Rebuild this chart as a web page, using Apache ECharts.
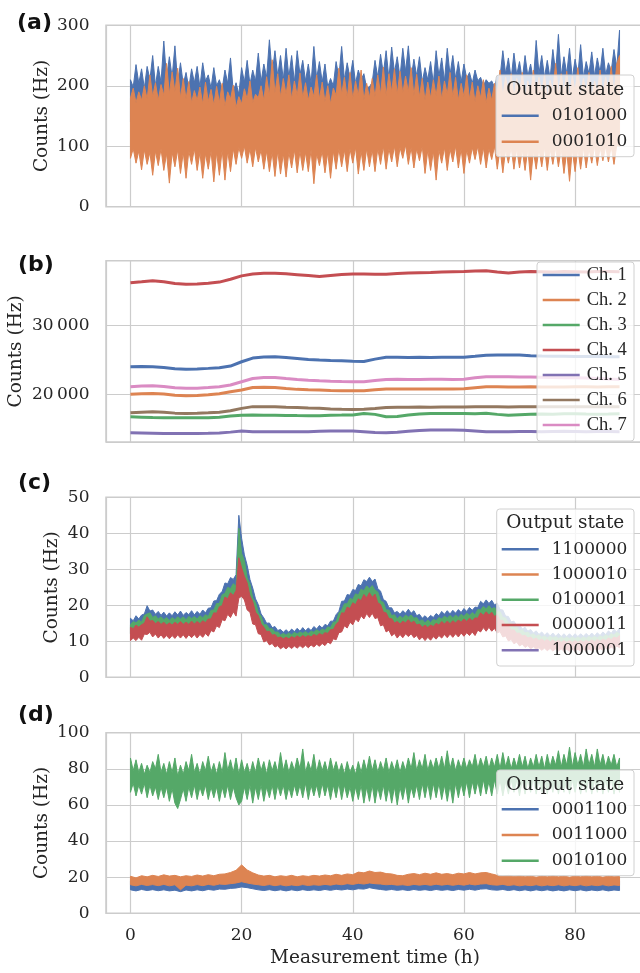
<!DOCTYPE html>
<html>
<head>
<meta charset="utf-8">
<script src="https://cdn.jsdelivr.net/npm/echarts@6/dist/echarts.min.js"></script>
<style>
html, body { margin: 0; padding: 0; background: #fff; }
#chart { width: 640px; height: 973px; }
</style>
</head>
<body>
<div id="chart"></div>
<script>
// ---------- panel (a): noisy bands, upper / lower edges every 0.5 h ----------
var blueA_hi = [210,198,235,204,228,196,232,210,250,200,
	232,206,274,212,248,214,266,204,238,202,
	222,196,228,205,232,198,238,208,218,196,
	230,200,210,194,226,204,246,190,205,186,
	230,206,242,202,226,208,254,206,236,214,
	276,220,258,216,250,210,262,214,250,206,
	258,218,242,208,236,204,265,212,240,206,
	236,198,212,200,240,214,265,210,238,212,
	242,204,226,210,220,196,198,206,242,214,
	252,220,258,212,264,222,248,214,262,224,
	266,212,244,216,248,206,230,210,240,204,
	258,216,246,208,262,218,250,212,240,206,
	236,212,222,204,226,208,214,200,210,204,
	208,198,216,214,258,220,246,212,254,218,
	240,210,250,216,236,208,275,220,250,214,
	242,212,260,222,285,216,248,220,262,212,
	244,218,268,214,240,220,256,216,246,222,
	262,218,238,224,260,230,292];
// hidden under the orange band, every 4 h
var blueA_lo = [140,135,138,132,136,140,134,138,136,140,135,138,136,134,140,136,138,135,140,136,138,134,140];
var orangeA_hi = [180,196,172,190,176,200,178,218,182,205,
	176,202,184,237,186,223,190,229,180,212,
	178,207,172,192,176,198,170,206,174,194,
	168,199,172,204,166,190,178,201,164,182,
	170,195,178,208,172,186,180,200,176,215,
	184,243,188,220,182,212,186,218,178,208,
	184,221,180,205,176,198,182,218,178,206,
	174,200,170,196,184,229,186,214,180,222,
	178,208,184,226,176,204,180,212,182,218,
	186,231,184,220,190,228,186,224,188,216,
	190,230,184,219,182,212,176,206,180,210,
	184,216,178,208,186,222,182,214,176,204,
	182,218,178,206,174,200,180,210,172,196,
	176,204,186,226,182,214,188,220,180,212,
	186,222,180,208,184,226,182,214,186,218,
	180,209,190,237,184,220,188,224,180,216,
	190,230,182,212,188,222,180,208,188,226,
	184,214,190,232,186,236,250];
var orangeA_lo = [80,96,72,92,61,94,70,90,52,92,
	68,96,60,88,39,90,66,94,55,90,
	47,92,70,96,60,90,47,88,62,92,
	41,90,52,94,44,92,58,96,70,98,
	80,100,72,96,66,98,74,94,62,92,
	58,90,50,92,54,88,49,90,64,94,
	56,92,60,90,58,94,38,88,68,92,
	56,90,47,92,62,96,66,94,58,96,
	72,98,54,92,60,96,66,94,58,96,
	70,100,62,96,74,100,66,98,80,102,
	70,98,64,96,76,100,55,94,60,92,
	44,94,72,98,60,96,74,100,64,96,
	55,94,72,98,78,100,70,98,64,96,
	78,100,62,96,56,94,72,98,62,96,
	64,94,60,96,44,92,62,96,66,98,
	60,96,70,98,66,96,55,92,42,94,
	58,96,62,98,64,96,72,100,68,98,
	76,100,74,100,70,102,100];

// ---------- panel (b): channel rates every 2 h ----------
var ch1B = [24000,24020,24000,23900,23720,23620,23680,23760,23850,24100,
	24720,25250,25420,25450,25350,25200,25050,24960,24900,24850,
	24800,24760,25100,25360,25380,25350,25360,25340,25380,25360,
	25370,25500,25650,25700,25700,25680,25600,25550,25520,25500,
	25480,25470,25500,25460,25450];
var ch2B = [20000,20080,20140,20060,19880,19800,19840,19950,20080,20380,
	20630,21000,21020,21000,20850,20720,20660,20630,20560,20530,
	20520,20530,20650,20770,20780,20760,20770,20780,20790,20780,
	20800,20950,21100,21100,21080,21080,21100,21080,21060,21080,
	21100,21100,21080,21100,21100];
var ch3B = [16750,16700,16630,16610,16600,16600,16610,16620,16700,16850,
	16990,17000,16990,16980,16950,16920,16900,16900,16990,17000,
	17020,17230,17100,16760,16800,17000,17150,17230,17240,17230,
	17240,17200,17250,17100,16990,17050,17100,17150,17120,17180,
	17200,17150,17120,17140,17200];
var ch4B = [36170,36300,36450,36300,36050,35940,35980,36100,36250,36660,
	37150,37420,37520,37530,37450,37330,37200,37050,37200,37350,
	37430,37420,37400,37400,37480,37560,37620,37640,37700,37740,
	37770,37850,37910,37700,37560,37700,37770,37750,37720,37800,
	37760,37700,37780,37800,37760];
var ch5B = [14430,14420,14380,14340,14330,14340,14340,14360,14420,14530,
	14680,14600,14580,14580,14570,14580,14600,14650,14680,14690,
	14690,14600,14480,14440,14520,14650,14780,14820,14830,14830,
	14800,14700,14600,14580,14600,14620,14620,14600,14620,14640,
	14620,14600,14620,14620,14600];
var ch6B = [17330,17420,17480,17420,17280,17240,17260,17320,17420,17620,
	17970,18220,18220,18200,18120,18080,18020,17970,17880,17830,
	17820,17830,17950,18100,18120,18140,18150,18130,18160,18180,
	18180,18190,18200,18200,18180,18200,18210,18200,18190,18200,
	18220,18200,18210,18220,18220];
var ch7B = [21100,21200,21250,21150,20950,20870,20900,20980,21100,21350,
	21830,22300,22450,22450,22300,22160,22050,21970,21900,21850,
	21830,21830,22000,22160,22170,22160,22150,22170,22180,22160,
	22200,22400,22550,22560,22540,22520,22500,22470,22450,22420,
	22400,22380,22300,22220,22160];

// ---------- panel (c): bands every 0.5 h, hidden parts every 1 h ----------
var blueC_hi = [16.4,15.7,17.1,16.2,17.3,17.6,19.9,18.4,18.7,17.5,
	18.3,17.2,18.1,17.0,17.9,17.1,18.2,17.3,18.4,17.2,
	18.0,17.4,18.5,17.3,18.3,17.5,18.7,17.9,19.2,19.3,
	21.2,21.3,23.1,23.8,26.2,26.0,27.7,27.2,28.5,45.0,
	38.6,34.0,31.1,27.2,24.8,21.8,20.2,17.6,16.5,15.0,
	15.1,13.8,14.1,13.0,13.3,12.5,13.2,12.5,13.4,12.7,
	13.6,12.8,13.8,12.9,13.7,13.0,14.1,13.4,14.4,13.7,
	14.7,14.3,15.6,15.6,17.4,18.3,21.1,21.2,23.0,22.8,
	24.4,24.1,25.8,25.4,27.1,26.6,27.8,26.6,27.3,24.7,
	23.9,21.6,21.1,19.3,19.3,17.9,18.3,17.5,18.5,17.8,
	18.9,17.8,18.5,17.1,17.5,16.4,17.1,16.3,17.2,16.6,
	17.7,17.1,18.3,17.5,18.5,17.6,18.6,17.8,18.8,18.0,
	19.1,18.3,19.4,18.6,19.5,19.4,21.1,20.4,21.5,20.5,
	21.4,20.1,20.6,18.8,18.7,17.0,16.9,15.4,15.6,14.3,
	14.6,13.4,13.9,12.8,13.3,12.3,12.9,11.9,12.6,11.7,
	12.4,11.5,12.3,11.4,12.2,11.3,12.1,11.3,12.1,11.3,
	12.1,11.3,12.1,11.4,12.2,11.4,12.3,11.5,12.4,11.6,
	12.6,11.9,12.9,12.2,13.3,12.6,13.7];
var greenC_hi = [14.6,15.5,15.1,15.9,15.3,17.2,17.6,17.9,16.6,17.1,
	16.2,16.8,16.0,16.6,15.8,16.6,16.0,16.8,16.2,16.8,
	16.0,16.9,16.3,16.9,16.2,17.1,16.5,17.4,16.9,18.6,
	18.7,20.5,20.5,22.9,23.3,25.0,24.6,26.0,25.3,41.4,
	34.4,32.4,27.6,25.9,22.0,20.8,17.9,17.0,14.6,14.6,
	13.4,13.5,12.5,12.6,11.7,12.2,11.7,12.3,11.8,12.5,
	12.0,12.6,12.2,12.7,12.1,12.8,12.5,13.2,12.7,13.4,
	13.0,14.0,13.8,15.3,15.4,17.8,18.7,20.4,20.4,21.9,
	21.6,23.2,22.8,24.5,24.0,25.4,24.6,25.5,24.2,23.7,
	21.2,20.8,18.7,18.7,17.1,17.4,16.2,17.0,16.4,17.3,
	16.7,17.3,16.4,16.6,15.5,16.0,15.1,15.9,15.2,16.1,
	15.7,16.6,16.2,17.0,16.4,17.2,16.5,17.3,16.6,17.5,
	16.9,17.8,17.2,18.0,17.3,18.8,18.7,19.7,19.0,19.9,
	19.0,19.4,18.2,18.2,16.6,16.5,15.0,15.0,13.8,14.0,
	12.9,13.2,12.3,12.6,11.7,12.1,11.4,11.8,11.1,11.5,
	10.9,11.4,10.9,11.3,10.8,11.2,10.7,11.2,10.7,11.2,
	10.7,11.2,10.7,11.2,10.8,11.3,10.9,11.4,10.9,11.5,
	11.1,11.8,11.4,12.1,11.7,12.5,12.1];
var redC_hi = [13.9,13.5,14.5,13.9,14.6,15.0,16.8,15.6,15.8,14.9,
	15.5,14.7,15.3,14.5,15.1,14.5,15.3,14.7,15.5,14.7,
	15.3,14.7,15.6,14.8,15.5,14.9,15.7,15.2,16.2,16.2,
	17.9,17.8,19.6,19.9,22.3,21.8,23.5,22.7,24.1,33.2,
	30.4,28.0,26.2,22.6,21.0,18.1,17.1,14.8,13.9,12.7,
	12.8,11.7,11.9,11.0,11.2,10.7,11.1,10.7,11.3,10.9,
	11.5,11.0,11.6,11.1,11.6,11.2,11.9,11.5,12.2,11.7,
	12.4,12.2,13.2,13.3,14.7,15.5,17.9,17.8,19.5,19.1,
	20.7,20.2,21.8,21.3,23.0,22.1,23.5,22.2,23.1,20.7,
	20.2,18.1,17.9,16.3,16.3,15.1,15.5,14.8,15.6,15.1,
	16.0,15.1,15.6,14.5,14.8,13.9,14.5,13.8,14.5,14.1,
	15.0,14.5,15.5,14.8,15.6,14.9,15.7,15.1,15.9,15.3,
	16.2,15.5,16.4,15.7,16.5,16.4,17.9,17.2,18.2,17.3,
	18.1,16.9,17.4,15.8,15.8,14.3,14.3,13.1,13.2,12.2,
	12.3,11.5,11.7,10.9,11.2,10.5,10.9,10.2,10.6,10.0,
	10.5,9.8,10.4,9.8,10.3,9.7,10.2,9.7,10.2,9.7,
	10.2,9.7,10.2,9.8,10.3,9.8,10.4,9.9,10.5,10.0,
	10.6,10.2,10.9,10.5,11.2,10.9,11.6];
var redC_lo = [10.2,10.9,10.2,11.1,10.3,12.0,11.9,12.5,11.2,12.0,
	10.9,11.8,10.8,11.6,10.7,11.6,10.8,11.8,10.9,11.8,
	10.8,11.8,11.0,11.9,10.9,11.9,11.1,12.2,11.4,13.0,
	12.6,14.3,13.8,16.0,15.7,17.5,16.6,18.2,17.0,22.0,
	22.5,21.5,18.7,18.1,14.8,14.6,12.1,11.9,9.8,10.2,
	9.0,9.4,8.4,8.8,7.9,8.5,7.9,8.6,8.0,8.7,
	8.1,8.8,8.2,8.9,8.2,9.0,8.4,9.2,8.6,9.4,
	8.8,9.8,9.3,10.7,10.4,12.4,12.6,14.3,13.7,15.3,
	14.6,16.2,15.4,17.1,16.2,17.7,16.6,17.8,16.3,16.6,
	14.3,14.6,12.6,13.1,11.5,12.2,10.9,11.9,11.0,12.1,
	11.3,12.1,11.0,11.6,10.4,11.2,10.2,11.1,10.3,11.3,
	10.6,11.6,10.9,11.9,11.0,12.0,11.1,12.1,11.2,12.3,
	11.4,12.4,11.6,12.6,11.6,13.1,12.6,13.8,12.8,13.9,
	12.8,13.6,12.3,12.7,11.2,11.5,10.1,10.5,9.3,9.8,
	8.7,9.2,8.3,8.8,7.9,8.5,7.7,8.2,7.5,8.1,
	7.4,8.0,7.3,7.9,7.3,7.9,7.2,7.8,7.2,7.8,
	7.2,7.8,7.2,7.8,7.3,7.9,7.3,7.9,7.4,8.0,
	7.5,8.2,7.7,8.4,7.9,8.7,8.2];
// lower edge of the blue and green bands, covered by the red band (every 1 h)
var coveredLoC = [12.1,12.6,12.7,14.7,13.8,13.5,13.3,13.2,13.3,13.5,
	13.3,13.5,13.5,13.7,14.1,15.5,17.0,19.4,20.4,21.0,
	28.6,22.9,18.3,14.9,12.1,11.1,10.4,9.8,9.7,9.8,
	10.0,10.1,10.1,10.4,10.6,10.8,11.5,12.8,15.5,16.9,
	18.0,18.9,20.0,20.4,20.1,17.6,15.5,14.2,13.5,13.6,
	13.9,13.6,12.9,12.6,12.7,13.0,13.5,13.6,13.7,13.8,
	14.1,14.3,14.4,15.5,15.8,15.8,15.2,13.8,12.4,11.5,
	10.7,10.2,9.8,9.5,9.3,9.1,9.0,9.0,8.9,8.9,
	8.9,8.9,9.0,9.0,9.1,9.3,9.5,9.8,10.1];
// 1000010 sits under the green band (every 1 h); 1000001 has nothing visible
var orangeC = [13.4,13.9,14.1,16.2,15.3,14.9,14.8,14.6,14.8,14.9,
	14.8,15.0,14.9,15.2,15.6,17.2,18.9,21.5,22.6,23.3,
	31.7,25.4,20.3,16.5,13.4,12.3,11.5,10.8,10.7,10.9,
	11.1,11.2,11.2,11.5,11.7,12.0,12.7,14.2,17.2,18.8,
	19.9,21.0,22.1,22.6,22.3,19.5,17.2,15.7,14.9,15.1,
	15.4,15.1,14.3,13.9,14.0,14.4,14.9,15.1,15.2,15.3,
	15.6,15.8,15.9,17.2,17.5,17.5,16.8,15.3,13.8,12.7,
	11.9,11.3,10.8,10.5,10.3,10.1,10.0,9.9,9.8,9.8,
	9.8,9.8,9.9,10.0,10.1,10.3,10.5,10.8,11.2];
var purpleC = [];

// ---------- panel (d) ----------
var greenD_hi = [86,79,85,78,83,77,82,78,84,80,
	88,78,83,77,84,78,86,76,82,77,
	84,79,88,78,83,77,84,79,87,78,
	83,77,84,78,89,79,85,78,86,77,
	85,78,83,77,84,78,86,79,84,77,
	85,79,84,78,89,79,85,78,84,79,
	86,80,91,78,84,79,88,78,85,79,
	84,78,86,79,84,78,83,77,84,78,
	82,77,84,78,85,79,87,79,85,78,
	84,79,86,78,84,79,85,78,84,79,
	86,80,89,79,85,80,88,79,85,80,
	86,80,87,80,90,80,86,79,85,80,
	86,80,85,81,88,80,86,81,87,80,
	86,81,88,80,89,81,87,80,86,81,
	88,81,87,80,86,81,88,81,87,80,
	88,81,87,82,90,81,88,82,92,81,
	89,82,88,81,91,82,88,81,91,82,
	88,81,87,82,88,81,86];
var greenD_lo = [67,72,65,71,66,72,64,71,65,70,
	63,70,64,70,62,69,61,58,63,69,
	62,70,64,71,63,70,65,71,63,70,
	64,70,62,70,64,71,63,70,64,60,
	62,70,63,71,61,70,63,71,62,70,
	64,71,63,71,65,71,63,70,64,71,
	65,71,64,72,63,71,65,71,64,72,
	65,71,63,71,64,72,63,71,64,70,
	62,70,63,71,61,70,62,71,61,70,
	63,71,62,70,61,70,60,70,63,71,
	61,70,64,71,63,72,64,72,63,72,
	64,72,63,71,62,71,61,72,64,72,
	65,73,64,73,66,73,65,74,66,73,
	65,74,66,74,65,73,66,74,67,74,
	65,74,66,74,67,75,66,74,67,75,
	66,74,67,75,66,74,67,75,66,74,
	67,75,66,74,67,75,66,74,67,75,
	66,74,67,75,66,74,67];
var orangeD_hi = [20.5,19.6,20.8,20.2,21.0,20.4,21.3,20.6,21.0,20.2,
	20.8,20.4,21.2,20.6,21.4,20.8,21.6,21.8,22.6,23.8,
	26.8,24.0,22.4,21.2,20.6,21.0,20.2,20.8,20.4,21.0,
	20.2,20.8,20.4,21.0,20.6,21.2,20.8,21.6,21.0,21.8,
	21.4,22.8,22.4,23.4,22.6,22.8,22.0,21.8,21.0,20.8,
	21.6,22.0,21.4,22.2,21.6,22.4,21.6,22.0,21.4,22.2,
	21.8,22.6,21.8,22.4,22.6,21.8,21.0,20.6,21.0,20.4,
	20.8,20.2,20.6,20.0,20.6,20.2,20.8,20.2,20.6,20.0,
	20.6,20.2,20.8,20.2,20.6,20.0,20.6,20.2,20.4];
var orangeD_lo = [15.8,15.2,16.0,15.4,15.9,15.3,16.0,15.2,15.8,13.0,
	15.6,15.2,15.9,15.3,16.0,15.5,16.2,16.0,16.4,16.8,
	17.5,16.8,16.2,15.8,15.4,15.9,15.3,15.8,15.2,15.7,
	15.3,15.9,15.4,15.8,15.5,16.0,15.6,16.2,15.8,16.4,
	16.0,16.6,16.2,16.8,16.4,16.2,15.8,16.0,15.6,15.8,
	15.4,16.0,15.6,16.0,15.5,16.1,15.6,16.0,15.5,16.0,
	15.6,16.2,15.7,16.2,16.4,15.8,15.6,16.0,15.4,15.8,
	15.2,15.7,15.3,15.8,15.2,15.7,15.3,15.8,15.2,15.7,
	15.3,15.8,15.2,15.7,15.3,15.8,15.2,15.7,15.4];
// top of the blue band is under the orange band (every 4 h)
var blueD_hi = [18,18,18,18,18,19.5,18,18,18,18,18.5,18,18,18,18,18,18,18,18,18,18,18,18];
var blueD_lo = [13.0,12.4,13.2,12.6,13.1,12.5,13.0,12.4,12.8,12.0,
	12.9,12.4,13.0,12.5,13.2,12.8,13.4,13.3,13.8,14.0,
	14.6,14.2,13.6,13.0,12.6,13.1,12.5,13.0,12.4,13.0,
	12.5,13.1,12.6,13.0,12.6,13.2,12.7,13.3,12.9,13.4,
	13.0,13.6,13.4,14.2,13.6,13.2,12.8,13.2,12.7,13.1,
	12.6,13.2,12.7,13.1,12.6,13.2,12.7,13.1,12.6,13.2,
	12.8,13.3,12.8,13.4,13.6,13.0,12.8,13.2,12.6,13.1,
	12.5,13.0,12.4,13.0,12.5,13.0,12.4,12.9,12.4,13.0,
	12.5,13.0,12.4,12.9,12.5,13.0,12.4,12.9,12.6];

// sample times (h)
function hoursGrid(step, last) {
	var a = [];
	for (var i = 0; i * step <= last + 1e-9; i++) {
		a.push(+(i * step).toFixed(2));
	}
	return a;
}
var HALF = hoursGrid(0.5, 88), HOUR = hoursGrid(1, 88), TWO = hoursGrid(2, 88), FOUR = hoursGrid(4, 88);

var C = {
	blue: '#4c72b0', orange: '#dd8452', green: '#55a868', red: '#c44e52',
	purple: '#8172b3', brown: '#937860', pink: '#da8bc3'
};
var TXT = '#262626', GRIDC = '#cccccc';
var SERIF = "'DejaVu Serif', serif";
var TIMES = "'Liberation Serif', serif";

function pairs(ts, vs) {
	return vs.map(function (v, i) { return [ts[i], v]; });
}

// filled band between an upper and a lower edge, placed with the axis scales
function band(name, color, ix, upT, up, loT, lo) {
	return {
		type: 'custom', name: name, xAxisIndex: ix, yAxisIndex: ix,
		itemStyle: { color: color }, clip: true, z: 2,
		data: [[0, 0]],
		renderItem: function (params, api) {
			var pts = [];
			for (var i = 0; i < up.length; i++) pts.push(api.coord([upT[i], up[i]]));
			for (var j = lo.length - 1; j >= 0; j--) pts.push(api.coord([loT[j], lo[j]]));
			return {
				type: 'polygon', shape: { points: pts },
				style: { fill: color, stroke: color, lineWidth: 1 }
			};
		}
	};
}

function line(name, color, ix, ts, vs, width, z) {
	return {
		type: 'line', name: name, xAxisIndex: ix, yAxisIndex: ix,
		data: pairs(ts, vs), symbol: 'none', showSymbol: false, z: z || 2,
		lineStyle: { color: color, width: width }, itemStyle: { color: color }
	};
}

var gridTops = [25.3, 260.7, 497.3, 732.7];
var gridHeights = [181.4, 181.3, 180, 180.6];

var grids = gridTops.map(function (t, i) {
	return {
		left: 106, top: t, width: 538, height: gridHeights[i],
		show: true, borderColor: GRIDC, borderWidth: 1.5,
		containLabel: false, outerBoundsMode: 'none'
	};
});

// no fixed interval on the time axis: min is -4.4, the nice step (20) starts at 0
var xAxes = [0, 1, 2, 3].map(function (i) {
	var last = i === 3;
	return {
		type: 'value', gridIndex: i, min: -4.4, max: 92.4, splitNumber: 5,
		axisLine: { show: false }, axisTick: { show: false },
		splitLine: { show: true, lineStyle: { color: GRIDC, width: 1.2 } },
		axisLabel: {
			show: last, color: TXT, fontFamily: SERIF, fontSize: 17, margin: 14,
			formatter: function (v) { return v % 20 === 0 ? String(v) : ''; }
		},
		name: last ? 'Measurement time (h)' : '',
		nameLocation: 'middle', nameGap: 35, nameMoveOverlap: false,
		nameTextStyle: { color: TXT, fontFamily: SERIF, fontSize: 18.5 }
	};
});

function yAxis(i, min, max, interval, split, gap, fmt) {
	var ax = {
		type: 'value', gridIndex: i, min: min, max: max,
		axisLine: { show: false }, axisTick: { show: false },
		splitLine: { show: true, lineStyle: { color: GRIDC, width: 1.2 } },
		axisLabel: { color: TXT, fontFamily: SERIF, fontSize: 17, margin: 16.5, formatter: fmt },
		name: 'Counts (Hz)', nameLocation: 'middle', nameGap: gap, nameMoveOverlap: false,
		nameTextStyle: { color: TXT, fontFamily: SERIF, fontSize: 18.5 }
	};
	if (interval) ax.interval = interval;
	if (split) ax.splitNumber = split;
	return ax;
}
function plain(step) {
	return function (v) { return v % step === 0 ? String(v) : ''; };
}
var yAxes = [
	yAxis(0, 0, 300, 100, 0, 54, plain(100)),
	yAxis(1, 13100, 39350, 0, 3, 80, function (v) {
		if (v % 10000 !== 0) return '';
		return Math.floor(v / 1000) + '\u2009000';
	}),
	yAxis(2, 0, 50, 10, 0, 44, plain(10)),
	yAxis(3, 0, 100, 20, 0, 54, plain(20))
];

var series = [
	band('0101000', C.blue, 0, HALF, blueA_hi, FOUR, blueA_lo),
	band('0001010', C.orange, 0, HALF, orangeA_hi, HALF, orangeA_lo),

	line('Ch. 1', C.blue, 1, TWO, ch1B, 3),
	line('Ch. 2', C.orange, 1, TWO, ch2B, 3),
	line('Ch. 3', C.green, 1, TWO, ch3B, 3),
	line('Ch. 4', C.red, 1, TWO, ch4B, 3),
	line('Ch. 5', C.purple, 1, TWO, ch5B, 3),
	line('Ch. 6', C.brown, 1, TWO, ch6B, 3),
	line('Ch. 7', C.pink, 1, TWO, ch7B, 3),

	band('1100000', C.blue, 2, HALF, blueC_hi, HOUR, coveredLoC),
	line('1000010', C.orange, 2, HOUR, orangeC, 1.5, 1),
	band('0100001', C.green, 2, HALF, greenC_hi, HOUR, coveredLoC),
	band('0000011', C.red, 2, HALF, redC_hi, HALF, redC_lo),
	line('1000001', C.purple, 2, HOUR, purpleC, 1.5),

	band('0001100', C.blue, 3, FOUR, blueD_hi, HOUR, blueD_lo),
	band('0011000', C.orange, 3, HOUR, orangeD_hi, HOUR, orangeD_lo),
	band('0010100', C.green, 3, HALF, greenD_hi, HALF, greenD_lo)
];

function legend(names, left, top, gap, font, pad) {
	return {
		orient: 'vertical', left: left, top: top, padding: 0, itemGap: gap,
		itemWidth: 37, itemHeight: 2.5, icon: 'rect', selectedMode: false, z: 60,
		textStyle: { color: TXT, fontFamily: font, fontSize: font === TIMES ? 18.5 : 17, lineHeight: 20, padding: [0, 0, 0, pad] },
		data: names
	};
}
var legends = [
	legend(['0101000', '0001010'], 501.7, 105.7, 6, SERIF, 8),
	legend(['Ch. 1', 'Ch. 2', 'Ch. 3', 'Ch. 4', 'Ch. 5', 'Ch. 6', 'Ch. 7'], 542.7, 265, 5, TIMES, 2),
	legend(['1100000', '1000010', '0100001', '0000011', '1000001'], 501.7, 539.3, 5.25, SERIF, 8),
	legend(['0001100', '0011000', '0010100'], 501.7, 799.3, 5.7, SERIF, 8)
];

function box(x, y, w, h) {
	return {
		type: 'rect', z: 50, silent: true,
		shape: { x: x, y: y, width: w, height: h, r: 3 },
		style: { fill: 'rgba(255,255,255,0.8)', stroke: '#d0d0d0', lineWidth: 1 }
	};
}
function label(text, x, y, font, align) {
	return {
		type: 'text', z: 61, silent: true, x: x, y: y,
		style: {
			text: text, fill: font.indexOf('bold') === 0 ? '#111' : TXT, font: font,
			align: align, verticalAlign: 'middle', textAlign: align, textVerticalAlign: 'middle'
		}
	};
}
var titleFont = "18.5px 'DejaVu Serif', serif";
var panelFont = "bold 22px 'DejaVu Sans', sans-serif";
var graphics = [
	box(496, 75, 138, 81.7),
	box(537, 262, 97, 179),
	box(496.7, 509, 137.3, 157),
	box(496.7, 770, 137.3, 105.7),
	label('Output state', 565.3, 90, titleFont, 'center'),
	label('Output state', 565.3, 523, titleFont, 'center'),
	label('Output state', 565.3, 785, titleFont, 'center'),
	label('(a)', 17, 23, panelFont, 'left'),
	label('(b)', 18, 265.5, panelFont, 'left'),
	label('(c)', 18, 483.3, panelFont, 'left'),
	label('(d)', 18, 715, panelFont, 'left')
];

var chart = echarts.init(document.getElementById('chart'), null, { renderer: 'canvas' });
chart.setOption({
	animation: false,
	backgroundColor: '#ffffff',
	grid: grids,
	xAxis: xAxes,
	yAxis: yAxes,
	legend: legends,
	series: series,
	graphic: graphics
});
</script>
</body>
</html>
